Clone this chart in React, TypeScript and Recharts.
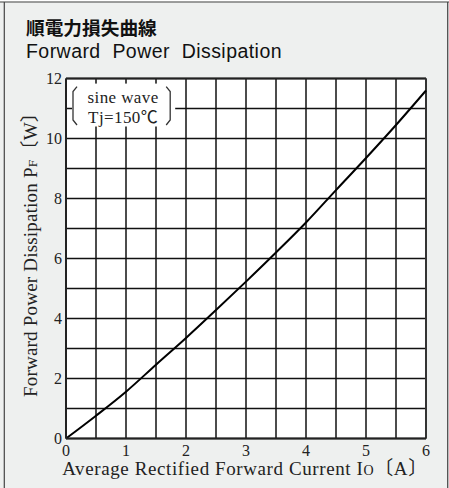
import { LineChart, Line, XAxis, YAxis, CartesianGrid, ReferenceLine, ReferenceArea } from "recharts";

// Io [A] vs PF [W], every 0.5 A
const currentA = [0, 0.5, 1, 1.5, 2, 2.5, 3, 3.5, 4, 4.5, 5, 5.5, 6];
const powerW = [0, 0.76, 1.56, 2.46, 3.35, 4.28, 5.23, 6.2, 7.2, 8.28, 9.35, 10.45, 11.6];

const xTicks = [0, 0.5, 1, 1.5, 2, 2.5, 3, 3.5, 4, 4.5, 5, 5.5, 6];
const yTicks = [0, 1, 2, 3, 4, 5, 6, 7, 8, 9, 10, 11, 12];
const legendLines = ["sine wave", "Tj=150℃"];

const data = currentA.map((a, i) => ({ a, p: powerW[i] }));

const SERIF = "'Liberation Serif', 'Noto Sans CJK JP', serif";
const SANS = "'Liberation Sans', Arial, 'Noto Sans CJK JP', sans-serif";

function LegendBox(props: any) {
  const { x, y, width, height } = props;
  const top = y + 3;
  const bot = y + height - 1.5;
  const lx = x + 1;
  const rx = x + width - 5;
  return (
    <g>
      <rect x={x} y={y} width={width} height={height} fill="#fff" />
      <path
        d={`M${lx + 4} ${top} L${lx} ${top + 5} L${lx} ${bot - 5} L${lx + 4} ${bot}`}
        fill="none"
        stroke="#333"
        strokeWidth={1.3}
      />
      <path
        d={`M${rx - 4} ${top} L${rx} ${top + 5} L${rx} ${bot - 5} L${rx - 4} ${bot}`}
        fill="none"
        stroke="#333"
        strokeWidth={1.3}
      />
      {legendLines.map((t, i) => (
        <text
          key={t}
          x={x + width / 2 - 0.5}
          y={y + 19 + i * 20.5}
          textAnchor="middle"
          fontFamily={SERIF}
          fontSize={17}
          letterSpacing={0.4}
          fill="#222"
        >
          {t}
        </text>
      ))}
    </g>
  );
}

export default function App() {
  return (
    <div style={{ position: "absolute", left: 0, top: 0, width: 449, height: 488, background: "#eef0ef", overflow: "hidden" }}>
      <LineChart
        width={449}
        height={488}
        data={data}
        margin={{ top: 78.5, right: 23, bottom: 19.5, left: 36 }}
      >
        <CartesianGrid stroke="#111" strokeWidth={1.5} fill="#fff" fillOpacity={1} />
        <XAxis
          dataKey="a"
          type="number"
          domain={[0, 6]}
          ticks={xTicks}
          interval={0}
          height={30}
          tickLine={false}
          tickSize={6}
          tickMargin={0}
          axisLine={{ stroke: "#222", strokeWidth: 2 }}
          tickFormatter={(v: number) => (Number.isInteger(v) ? String(v) : "")}
          tick={{ fill: "#222", fontSize: 16, fontFamily: SERIF }}
        />
        <YAxis
          type="number"
          domain={[0, 12]}
          ticks={yTicks}
          interval={0}
          width={30}
          tickLine={false}
          tickSize={4}
          tickMargin={0}
          axisLine={{ stroke: "#222", strokeWidth: 2 }}
          tickFormatter={(v: number) => (v % 2 === 0 ? String(v) : "")}
          tick={{ fill: "#222", fontSize: 16, fontFamily: SERIF }}
        />
        <ReferenceLine y={12} stroke="#222" strokeWidth={2} />
        <ReferenceLine x={6} stroke="#333" strokeWidth={2} />
        <ReferenceArea x1={0.1} x2={1.82} y1={10.4} y2={11.83} shape={<LegendBox />} />
        <Line
          dataKey="p"
          type="monotone"
          stroke="#000"
          strokeWidth={2}
          dot={false}
          isAnimationActive={false}
        />
      </LineChart>
      <svg
        width={449}
        height={488}
        style={{ position: "absolute", left: 0, top: 0, pointerEvents: "none" }}
      >
        <rect x={0} y={0} width={449} height={1.5} fill="#fff" />
        <line x1={0} y1={2} x2={449} y2={2} stroke="#444" strokeWidth={1.2} />
        <line x1={4.3} y1={2} x2={4.3} y2={488} stroke="#444" strokeWidth={1.2} />
        <line x1={447.7} y1={2} x2={447.7} y2={488} stroke="#444" strokeWidth={1.2} />
        <text x={26} y={35} fontFamily="'Noto Sans CJK JP', sans-serif" fontWeight={700} fontSize={18.7} fill="#111">
          順電力損失曲線
        </text>
        <text
          x={26}
          y={58}
          fontFamily={SANS}
          fontSize={19.5}
          letterSpacing={0.45}
          fill="#111"
          style={{ whiteSpace: "pre" }}
        >
          {"Forward  Power  Dissipation"}
        </text>
        <text
          x={245}
          y={475}
          textAnchor="middle"
          fontFamily={SERIF}
          fontSize={19}
          letterSpacing={0.6}
          fill="#222"
        >
          Average Rectified Forward Current I<tspan fontSize={14}>O</tspan>〔A〕
        </text>
        <text
          x={37}
          y={250}
          transform="rotate(-90 37 250)"
          textAnchor="middle"
          fontFamily={SERIF}
          fontSize={19}
          letterSpacing={0.2}
          fill="#222"
        >
          Forward Power Dissipation P<tspan fontSize={13.5}>F</tspan>〔W〕
        </text>
      </svg>
    </div>
  );
}
